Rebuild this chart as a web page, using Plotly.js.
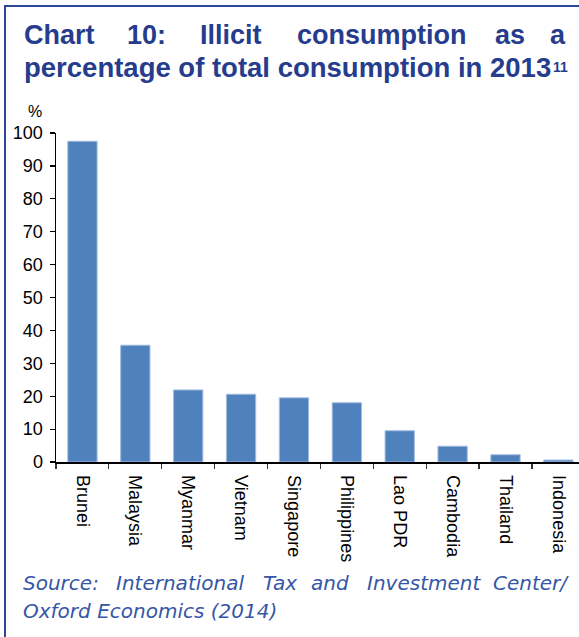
<!DOCTYPE html>
<html>
<head>
<meta charset="utf-8">
<script src="https://cdn.plot.ly/plotly-3.0.1.min.js"></script>
<style>
html,body{margin:0;padding:0;background:#fff;}
#chart{width:579px;height:637px;}
</style>
</head>
<body>
<div id="chart"></div>
<script>
// ---- data ----
const countries = ["Brunei","Malaysia","Myanmar","Vietnam","Singapore","Philippines","Lao PDR","Cambodia","Thailand","Indonesia"];
const illicitShare = [97.5, 35.5, 21.9, 20.6, 19.5, 18.0, 9.5, 4.8, 2.2, 0.6];
const yTicks = [0,10,20,30,40,50,60,70,80,90,100];

const titleLine1Words = ["Chart","10:","Illicit","consumption","as","a"];
const titleLine2 = "percentage of total consumption in 2013";
const titleSup = "11";
const sourceLine1Words = ["Source:","International","Tax","and","Investment","Center/"];
const sourceLine2 = "Oxford Economics (2014)";
const unitLabel = "%";

// ---- layout geometry (pixels) ----
const W = 579, H = 637;
const mL = 56, mR = 0, mT = 133, mB = 175;
const pw = W - mL - mR, ph = H - mT - mB;
const px = p => (p - mL) / pw;
const py = p => (H - mB - p) / ph;

const titleColor = "#263c8c";
const sourceColor = "#3656a6";
const borderColor = "#2e4796";

const t1x = [23,126,199,296,494,549];
const s1x = [22,115,262,310,366,492];

const annotations = [];
titleLine1Words.forEach((w,i)=>annotations.push({
  text:w, xref:"paper", yref:"paper", x:px(t1x[i]), y:py(34.6),
  xanchor:"left", yanchor:"middle", showarrow:false, borderpad:0,
  font:{family:"Liberation Sans, Arial, sans-serif", size:27, color:titleColor, weight:"bold"}
}));
annotations.push({
  text:titleLine2, xref:"paper", yref:"paper", x:px(23), y:py(67.4),
  xanchor:"left", yanchor:"middle", showarrow:false, borderpad:0,
  font:{family:"Liberation Sans, Arial, sans-serif", size:27.5, color:titleColor, weight:"bold"}
});
annotations.push({
  text:titleSup, xref:"paper", yref:"paper", x:px(552), y:py(66.5),
  xanchor:"left", yanchor:"middle", showarrow:false, borderpad:0,
  font:{family:"Liberation Sans, Arial, sans-serif", size:14, color:titleColor, weight:"bold"}
});
sourceLine1Words.forEach((w,i)=>annotations.push({
  text:"<i>"+w+"</i>", xref:"paper", yref:"paper", x:px(s1x[i]), y:py(583),
  xanchor:"left", yanchor:"middle", showarrow:false, borderpad:0,
  font:{family:"DejaVu Sans, sans-serif", size:20, color:sourceColor}
}));
annotations.push({
  text:"<i>"+sourceLine2+"</i>", xref:"paper", yref:"paper", x:px(22), y:py(611),
  xanchor:"left", yanchor:"middle", showarrow:false, borderpad:0,
  font:{family:"DejaVu Sans, sans-serif", size:20, color:sourceColor}
});
annotations.push({
  text:unitLabel, xref:"paper", yref:"paper", x:px(34.5), y:py(111.5),
  xanchor:"center", yanchor:"middle", showarrow:false, borderpad:0,
  font:{family:"Liberation Sans, Arial, sans-serif", size:16, color:"#000"}
});

const shapes = [
  {type:"line", xref:"paper", yref:"paper", x0:px(4), x1:px(580), y0:py(6), y1:py(6), line:{color:borderColor, width:2}},
  {type:"line", xref:"paper", yref:"paper", x0:px(5), x1:px(5), y0:py(5), y1:py(640), line:{color:borderColor, width:2}}
];

const trace = {
  type:"bar", x:countries, y:illicitShare,
  marker:{color:"#4f81bd", line:{color:"#a3bde0", width:1}},
  hoverinfo:"skip"
};

const layout = {
  width:W, height:H,
  margin:{l:mL, r:mR, t:mT, b:mB, pad:0},
  paper_bgcolor:"#fff", plot_bgcolor:"#fff",
  showlegend:false, bargap:0.446,
  font:{family:"Liberation Sans, Arial, sans-serif", size:18, color:"#000"},
  xaxis:{
    type:"category", range:[-0.5, 9.39], tickson:"boundaries",
    ticks:"outside", ticklen:5, tickwidth:1.2, tickcolor:"#333",
    tickangle:90, ticklabelstandoff:8, showline:true, linecolor:"#000", linewidth:1.5,
    showgrid:false, zeroline:false, fixedrange:true,
    tickfont:{size:18, color:"#000"}
  },
  yaxis:{
    range:[0,100], tickvals:yTicks, ticks:"outside", ticklen:5, tickwidth:1.2, tickcolor:"#000",
    ticklabelstandoff:3,
    showline:true, linecolor:"#000", linewidth:1.5, showgrid:false, zeroline:false,
    tickfont:{size:18, color:"#000"}, fixedrange:true
  },
  annotations:annotations, shapes:shapes
};

Plotly.newPlot("chart",[trace],layout,{displayModeBar:false, staticPlot:true});
</script>
</body>
</html>
